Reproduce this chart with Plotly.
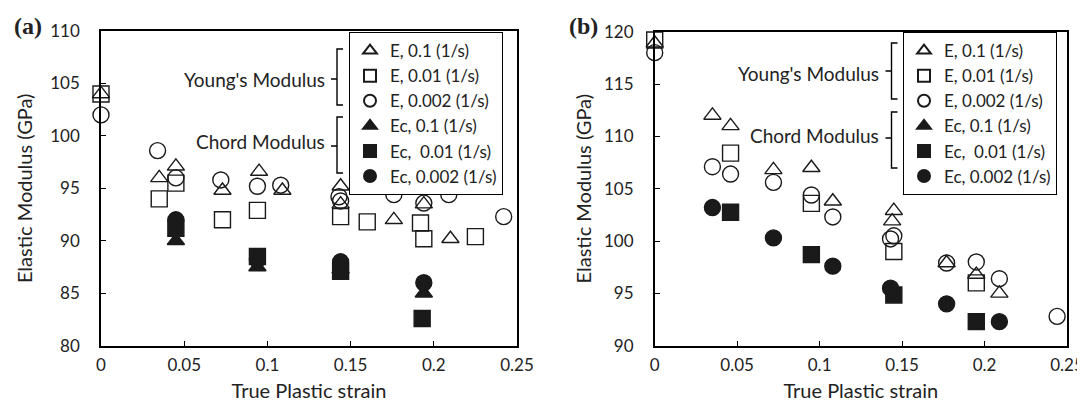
import plotly.graph_objects as go

# ---------------- data: panel (a) ----------------
a_E01_x = [0, 0.035, 0.045, 0.073, 0.095, 0.109, 0.144, 0.144, 0.176, 0.194, 0.21]
a_E01_y = [104, 96, 97.1, 94.8, 96.6, 94.8, 95.2, 93.5, 92.0, 93.5, 90.2]
a_E001_x = [0, 0.035, 0.045, 0.073, 0.094, 0.144, 0.16, 0.192, 0.194, 0.225]
a_E001_y = [104, 94.0, 95.5, 92.0, 92.9, 92.3, 91.8, 91.7, 90.2, 90.4]
a_E0002_x = [0, 0.034, 0.045, 0.072, 0.094, 0.108, 0.143, 0.144, 0.176, 0.194, 0.209, 0.242]
a_E0002_y = [102, 98.6, 96.0, 95.8, 95.2, 95.3, 94.2, 93.8, 94.4, 93.6, 94.4, 92.3]
a_Ec01_x = [0.045, 0.094, 0.144, 0.194]
a_Ec01_y = [90.0, 87.5, 87.3, 85.0]
a_Ec001_x = [0.045, 0.094, 0.144, 0.193]
a_Ec001_y = [91.2, 88.5, 87.1, 82.6]
a_Ec0002_x = [0.045, 0.094, 0.144, 0.194]
a_Ec0002_y = [92.0, 88.2, 88.0, 86.0]

# ---------------- data: panel (b) ----------------
b_E01_x = [0, 0.035, 0.046, 0.072, 0.095, 0.108, 0.144, 0.145, 0.177, 0.195, 0.209]
b_E01_y = [118.9, 112.0, 111.0, 106.8, 107.0, 103.8, 101.9, 102.9, 97.9, 96.8, 95.0]
b_E001_x = [0, 0.046, 0.095, 0.145, 0.195]
b_E001_y = [119.2, 108.4, 103.6, 99.0, 96.0]
b_E0002_x = [0, 0.035, 0.046, 0.072, 0.095, 0.108, 0.143, 0.145, 0.177, 0.195, 0.209, 0.244]
b_E0002_y = [118.0, 107.1, 106.4, 105.6, 104.4, 102.3, 100.2, 100.5, 97.9, 98.0, 96.4, 92.8]
b_Ec01_x = []   # no chord points at 0.1 (1/s) shown in panel (b)
b_Ec01_y = []
b_Ec001_x = [0.046, 0.095, 0.145, 0.195]
b_Ec001_y = [102.75, 98.7, 94.85, 92.3]
b_Ec0002_x = [0.035, 0.072, 0.108, 0.143, 0.177, 0.209]
b_Ec0002_y = [103.2, 100.3, 97.6, 95.5, 94.0, 92.3]

series_names = ["E, 0.1 (1/s)", "E, 0.01 (1/s)", "E, 0.002 (1/s)",
                "Ec, 0.1 (1/s)", "Ec,\u00a0 0.01 (1/s)", "Ec, 0.002 (1/s)"]
symbols = ["triangle-up-open", "square-open", "circle-open",
           "triangle-up", "square", "circle"]
group_labels = ["Young's Modulus", "Chord Modulus"]
panel_labels = ["(a)", "(b)"]
x_title = "True Plastic strain"
y_title = "Elastic Modulus (GPa)"

W, H = 1085, 402
OFF = 8  # page body margin: screen pixel = figure pixel + OFF
FONT = "Lato, 'Open Sans', sans-serif"
INK = "#1a1a1a"


def px(x):
    return (x - OFF) / W


def py(y):
    return 1 - (y - OFF) / H


fig = go.Figure()

panels = [
    dict(xa="x", ya="y", leg="legend",
         data=[(a_E01_x, a_E01_y), (a_E001_x, a_E001_y), (a_E0002_x, a_E0002_y),
               (a_Ec01_x, a_Ec01_y), (a_Ec001_x, a_Ec001_y), (a_Ec0002_x, a_Ec0002_y)]),
    dict(xa="x2", ya="y2", leg="legend2",
         data=[(b_E01_x, b_E01_y), (b_E001_x, b_E001_y), (b_E0002_x, b_E0002_y),
               (b_Ec01_x, b_Ec01_y), (b_Ec001_x, b_Ec001_y), (b_Ec0002_x, b_Ec0002_y)]),
]

for p in panels:
    for i, (xs, ys) in enumerate(p["data"]):
        sym = symbols[i]
        size = 15 if "triangle" in sym else 16
        fig.add_trace(go.Scatter(
            x=xs if xs else [None], y=ys if ys else [None],
            mode="markers", name=series_names[i],
            xaxis=p["xa"], yaxis=p["ya"], legend=p["leg"],
            cliponaxis=False, showlegend=True,
            marker=dict(symbol=sym, size=size, color=INK,
                        line=dict(color=INK, width=1.4)),
        ))

axis_common = dict(
    showline=True, linecolor="black", linewidth=1.6, mirror=True,
    ticks="inside", ticklen=5, tickwidth=1.3, tickcolor="black",
    showgrid=False, zeroline=False, automargin=False,
    tickfont=dict(family=FONT, size=17, color="#222"),
    title_font=dict(family=FONT, size=20, color="#222"),
)

legend_common = dict(
    xanchor="left", yanchor="top",
    bgcolor="white", bordercolor="black", borderwidth=1,
    itemsizing="constant", tracegroupgap=0,
    entrywidth=118, entrywidthmode="pixels",
    font=dict(family=FONT, size=17, color="#222"),
)

fig.update_layout(
    width=W, height=H,
    margin=dict(l=0, r=0, t=0, b=0, autoexpand=False),
    paper_bgcolor="white", plot_bgcolor="white",
    font=dict(family=FONT, color="#222"),
    xaxis=dict(domain=[px(101), px(517)], anchor="y", range=[0, 0.25], dtick=0.05,
               title=dict(text=x_title, standoff=10), ticklabelstandoff=3, **axis_common),
    yaxis=dict(domain=[py(345.7), py(31)], anchor="x", range=[80, 110], dtick=5,
               title=dict(text=y_title, standoff=12), ticklabelstandoff=16, **axis_common),
    xaxis2=dict(domain=[px(654.7), px(1067)], anchor="y2", range=[0, 0.25], dtick=0.05,
                title=dict(text=x_title, standoff=10), ticklabelstandoff=3, **axis_common),
    yaxis2=dict(domain=[py(345.7), py(31.7)], anchor="x2", range=[90, 120], dtick=5,
                title=dict(text=y_title, standoff=7), ticklabelstandoff=16, **axis_common),
    legend=dict(x=px(349), y=py(32), **legend_common),
    legend2=dict(x=px(903), y=py(32), **legend_common),
)


def bracket(xb, y1, y2, ym):
    path = (f"M {px(xb + 6)} {py(y1)} L {px(xb)} {py(y1)} L {px(xb)} {py(y2)} "
            f"L {px(xb + 6)} {py(y2)} M {px(xb)} {py(ym)} L {px(xb - 6)} {py(ym)}")
    return dict(type="path", xref="paper", yref="paper", path=path,
                line=dict(color="black", width=1.4))


shapes = [
    bracket(337, 49, 105, 79), bracket(337, 117, 173, 146),
    bracket(891.5, 43, 99, 71), bracket(891.5, 112, 168, 138),
]
fig.update_layout(shapes=shapes)

ann_font = dict(family=FONT, size=19, color="#222")
annotations = [
    dict(text=group_labels[0], x=px(327), y=py(79), xanchor="right", yanchor="middle"),
    dict(text=group_labels[1], x=px(327), y=py(141), xanchor="right", yanchor="middle"),
    dict(text=group_labels[0], x=px(881), y=py(73), xanchor="right", yanchor="middle"),
    dict(text=group_labels[1], x=px(881), y=py(135), xanchor="right", yanchor="middle"),
]
for a in annotations:
    a.update(xref="paper", yref="paper", showarrow=False, font=ann_font)
serif = dict(family="'Liberation Serif', 'DejaVu Serif', serif", size=24, color="#222")
annotations += [
    dict(text="<b>" + panel_labels[0] + "</b>", x=px(28), y=py(26), xref="paper", yref="paper",
         showarrow=False, xanchor="center", yanchor="middle", font=serif),
    dict(text="<b>" + panel_labels[1] + "</b>", x=px(583), y=py(26), xref="paper", yref="paper",
         showarrow=False, xanchor="center", yanchor="middle", font=serif),
]
fig.update_layout(annotations=annotations)

fig.write_html("out.html")
